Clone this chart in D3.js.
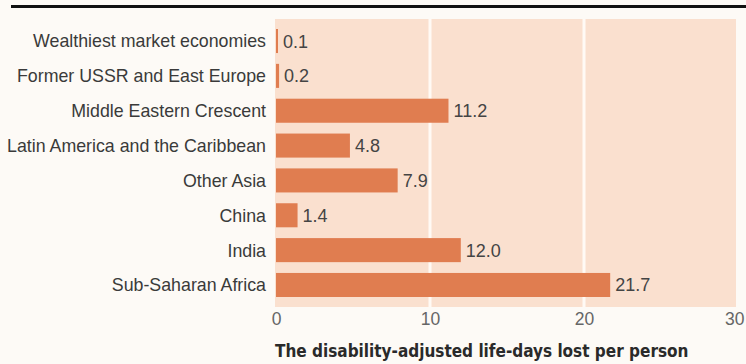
<!DOCTYPE html>
<html>
<head>
<meta charset="utf-8">
<script src="https://cdn.jsdelivr.net/npm/d3@7"></script>
<style>
  body { margin: 0; background: #fdfaf6; }
  svg { display: block; }
</style>
</head>
<body>
<svg id="chart" width="746" height="364"></svg>
<script>
/* data */
const regions = [
  "Wealthiest market economies",
  "Former USSR and East Europe",
  "Middle Eastern Crescent",
  "Latin America and the Caribbean",
  "Other Asia",
  "China",
  "India",
  "Sub-Saharan Africa"
]
const daysLost = [0.1, 0.2, 11.2, 4.8, 7.9, 1.4, 12.0, 21.7]
const xTicks = [0, 10, 20, 30]
const xTitle = "The disability-adjusted life-days lost per person"

/* dimensions */
const width = 746
const height = 364
const plotTop = 19
const plotBottom = 307

const svg = d3.select("#chart")

const x = d3.scaleLinear([0, 30], [276, 738])
const y = d3.scaleBand(regions, [29, 297]).paddingInner(0.31)

/* top rule */
svg.append("line")
  .attr("x1", 11).attr("x2", width)
  .attr("y1", 6.5).attr("y2", 6.5)
  .attr("stroke", "#111")
  .attr("stroke-width", 3)

/* panel background */
svg.append("rect")
  .attr("x", x(0) - 1)
  .attr("y", plotTop)
  .attr("width", x(30) - x(0) - 1)
  .attr("height", plotBottom - plotTop)
  .attr("fill", "#fae0cf")

/* white gridlines */
svg.append("g")
  .selectAll("line")
  .data(xTicks.filter(d => d > 0 && d < 30))
  .join("line")
  .attr("x1", d => x(d)).attr("x2", d => x(d))
  .attr("y1", plotTop).attr("y2", plotBottom)
  .attr("stroke", "#fffaf5")
  .attr("stroke-width", 3)

/* bars */
svg.append("g")
  .selectAll("rect")
  .data(regions)
  .join("rect")
  .attr("x", x(0))
  .attr("y", d => y(d))
  .attr("width", (d, i) => Math.max(2, x(daysLost[i]) - x(0)))
  .attr("height", y.bandwidth())
  .attr("fill", "#e07d50")

/* value labels */
svg.append("g")
  .selectAll("text")
  .data(regions)
  .join("text")
  .attr("x", (d, i) => Math.max(x(0) + 2, x(daysLost[i])) + 5)
  .attr("y", d => y(d) + y.bandwidth() / 2)
  .attr("dy", "0.36em")
  .attr("fill", "#444")
  .style("font", "18px 'Liberation Sans', sans-serif")
  .text((d, i) => daysLost[i].toFixed(1))

/* category labels */
svg.append("g")
  .attr("transform", `translate(${x(0) - 10},0)`)
  .call(d3.axisLeft(y).tickSize(0).tickPadding(0))
  .call(g => g.select(".domain").remove())
  .call(g => g.selectAll(".tick text")
    .attr("fill", "#3a3a3a")
    .attr("dy", "0.36em")
    .style("font", "17.8px 'Liberation Sans', sans-serif"))

/* x axis tick labels, last one kept inside the page */
svg.append("g")
  .attr("transform", `translate(0,${plotBottom})`)
  .call(d3.axisBottom(x).tickValues(xTicks).tickSize(0).tickPadding(6))
  .call(g => g.select(".domain").remove())
  .call(g => g.selectAll(".tick text")
    .attr("fill", "#666")
    .style("font", "17.5px 'Liberation Sans', sans-serif"))
  .call(g => g.selectAll(".tick text").filter(d => d === 30)
    .attr("text-anchor", "end")
    .attr("x", width - 2 - x(30)))

/* x title */
svg.append("text")
  .attr("x", x(0) - 1)
  .attr("y", 357)
  .attr("fill", "#2a2a2a")
  .style("font", "bold 17px 'DejaVu Sans Condensed', 'Liberation Sans', sans-serif")
  .text(xTitle)
</script>
</body>
</html>
